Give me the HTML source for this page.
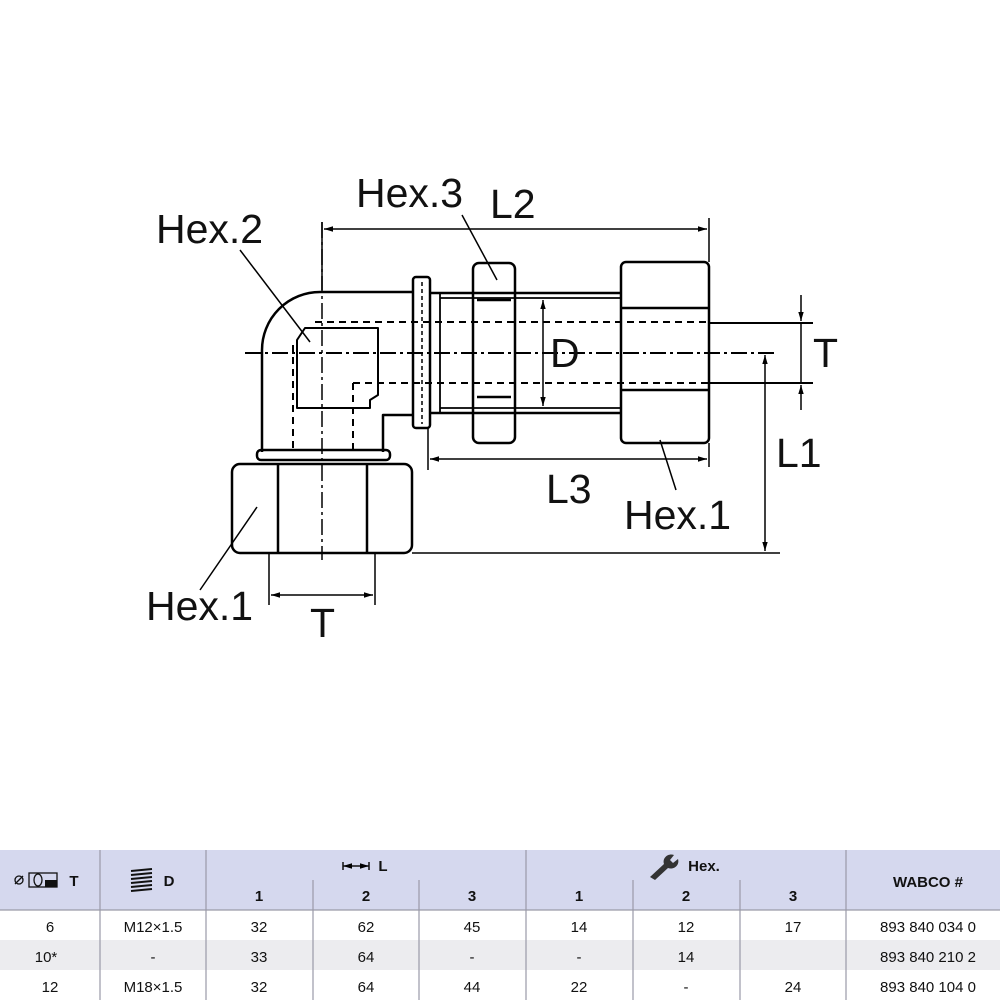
<!DOCTYPE html>
<html><head><meta charset="utf-8"><style>
html,body{margin:0;padding:0;background:#fff;width:1000px;height:1000px;overflow:hidden}
svg{display:block}
.t{font-family:"Liberation Sans",Arial,sans-serif;fill:#111}
</style></head><body>
<svg width="1000" height="1000" viewBox="0 0 1000 1000" xmlns="http://www.w3.org/2000/svg">
<defs>
<marker id="a" viewBox="0 0 10 10" refX="10" refY="5" markerWidth="8" markerHeight="6" orient="auto-start-reverse"><path d="M0,2 L10,5 L0,8 z" fill="#000"/></marker>
</defs>
<g fill="none" stroke="#000" stroke-width="2.5" stroke-linejoin="round">
<!-- elbow outer -->
<path d="M413,292 H320 A58,58 0 0 0 262,350 V452"/>
<path d="M383,452 V415 H413"/>
<!-- bore -->
<path d="M297,340 L305,328 H378 V395 L370,400 V408 H297 Z" stroke-width="2"/>
<!-- washer -->
<rect x="257" y="450" width="133" height="10" rx="4"/>
<!-- big hex nut -->
<rect x="232" y="464" width="180" height="89" rx="8"/>
<line x1="278" y1="464" x2="278" y2="553"/>
<line x1="367" y1="464" x2="367" y2="553"/>
<!-- flange -->
<rect x="413" y="277" width="17" height="151" rx="3"/>
<!-- body tube -->
<line x1="430" y1="293" x2="621" y2="293"/>
<line x1="430" y1="413" x2="621" y2="413"/>
<line x1="440" y1="298" x2="621" y2="298" stroke-width="1.8"/>
<line x1="440" y1="408" x2="621" y2="408" stroke-width="1.8"/>
<line x1="440" y1="293" x2="440" y2="413" stroke-width="1.8"/>
<!-- hex3 -->
<rect x="473" y="263" width="42" height="180" rx="6"/>
<line x1="477" y1="300" x2="511" y2="300"/>
<line x1="477" y1="397" x2="511" y2="397"/>
<!-- hex1 right -->
<rect x="621" y="262" width="88" height="181" rx="5"/>
<line x1="621" y1="308" x2="709" y2="308"/>
<line x1="621" y1="390" x2="709" y2="390"/>
<!-- tube right -->
<line x1="709" y1="323" x2="813" y2="323" stroke-width="2"/>
<line x1="709" y1="383" x2="813" y2="383" stroke-width="2"/>
</g>
<g fill="none" stroke="#000" stroke-width="2" stroke-dasharray="7,5">
<line x1="315" y1="322" x2="709" y2="322"/>
<line x1="353" y1="383" x2="709" y2="383"/>
<line x1="293" y1="345" x2="293" y2="450"/>
<line x1="353" y1="383" x2="353" y2="450"/>
<line x1="422" y1="282" x2="422" y2="424" stroke-width="1.5" stroke-dasharray="4,3"/>
</g>
<g fill="none" stroke="#000" stroke-width="1.5" stroke-dasharray="16,4,3,4">
<line x1="245" y1="353" x2="778" y2="353" stroke-width="2"/>
<line x1="322" y1="222" x2="322" y2="560"/>
</g>
<g fill="none" stroke="#000" stroke-width="1.5">
<!-- L2 -->
<line x1="322" y1="222" x2="322" y2="290"/>
<line x1="709" y1="218" x2="709" y2="262"/>
<line x1="324" y1="229" x2="707" y2="229" marker-start="url(#a)" marker-end="url(#a)"/>
<!-- L3 -->
<line x1="428" y1="428" x2="428" y2="470"/>
<line x1="709" y1="443" x2="709" y2="467"/>
<line x1="430" y1="459" x2="707" y2="459" marker-start="url(#a)" marker-end="url(#a)"/>
<!-- D -->
<line x1="543" y1="300" x2="543" y2="406" marker-start="url(#a)" marker-end="url(#a)"/>
<!-- T right -->
<line x1="801" y1="295" x2="801" y2="321" marker-end="url(#a)"/>
<line x1="801" y1="410" x2="801" y2="385" marker-end="url(#a)"/>
<line x1="801" y1="323" x2="801" y2="383"/>
<!-- L1 -->
<line x1="765" y1="355" x2="765" y2="551" marker-start="url(#a)" marker-end="url(#a)"/>
<line x1="412" y1="553" x2="780" y2="553"/>
<!-- T bottom -->
<line x1="269" y1="553" x2="269" y2="605"/>
<line x1="375" y1="553" x2="375" y2="605"/>
<line x1="271" y1="595" x2="373" y2="595" marker-start="url(#a)" marker-end="url(#a)"/>
<!-- leaders -->
<line x1="240" y1="250" x2="310" y2="342"/>
<line x1="462" y1="215" x2="497" y2="280"/>
<line x1="660" y1="440" x2="676" y2="490"/>
<line x1="200" y1="590" x2="257" y2="507"/>
</g>
<g class="t" font-size="41">
<text x="156" y="243">Hex.2</text>
<text x="356" y="207">Hex.3</text>
<text x="490" y="218">L2</text>
<text x="550" y="367">D</text>
<text x="813" y="367">T</text>
<text x="776" y="467">L1</text>
<text x="546" y="503">L3</text>
<text x="624" y="529">Hex.1</text>
<text x="146" y="620">Hex.1</text>
<text x="310" y="637">T</text>
</g>
<!-- table -->
<rect x="0" y="850" width="1000" height="60" fill="#d5d8ee"/>
<rect x="0" y="940" width="1000" height="30" fill="#ececef"/>
<g stroke="#9a9aa8" stroke-width="1.2">
<line x1="0" y1="910" x2="1000" y2="910"/>
<line x1="100" y1="850" x2="100" y2="1000"/>
<line x1="206" y1="850" x2="206" y2="1000"/>
<line x1="526" y1="850" x2="526" y2="1000"/>
<line x1="846" y1="850" x2="846" y2="1000"/>
<line x1="313" y1="880" x2="313" y2="1000"/>
<line x1="419" y1="880" x2="419" y2="1000"/>
<line x1="633" y1="880" x2="633" y2="1000"/>
<line x1="740" y1="880" x2="740" y2="1000"/>
</g>
<g class="t" font-size="15" font-weight="bold" text-anchor="middle">
<text x="74" y="886">T</text>
<text x="169" y="886">D</text>
<text x="383" y="871">L</text>
<text x="704" y="871">Hex.</text>
<text x="259" y="901">1</text><text x="366" y="901">2</text><text x="472" y="901">3</text>
<text x="579" y="901">1</text><text x="686" y="901">2</text><text x="793" y="901">3</text>
<text x="928" y="887">WABCO #</text>
</g>
<!-- icons -->
<g stroke="#111" fill="none" stroke-width="1.3">
<circle cx="19" cy="880" r="4"/><line x1="15" y1="884" x2="23" y2="876"/>
<rect x="29" y="873" width="28" height="14"/>
<ellipse cx="38" cy="880" rx="4" ry="6"/>
</g>
<rect x="45" y="880" width="12" height="7" fill="#111"/>
<g stroke="#111" stroke-width="2">
<line x1="131" y1="871" x2="152" y2="869"/><line x1="131" y1="875" x2="152" y2="873"/>
<line x1="131" y1="879" x2="152" y2="877"/><line x1="131" y1="883" x2="152" y2="881"/>
<line x1="131" y1="887" x2="152" y2="885"/><line x1="131" y1="891" x2="152" y2="889"/>
</g>
<g stroke="#111" stroke-width="1.5"><line x1="343" y1="866" x2="369" y2="866" marker-start="url(#a)" marker-end="url(#a)"/><line x1="343" y1="862" x2="343" y2="870"/><line x1="369" y1="862" x2="369" y2="870"/></g>
<path d="M650,877 L664,864 C662,858 668,853 674,855 L670,860 L673,863 L678,859 C680,866 673,870 668,868 L655,880 Z" fill="#333"/>
<g class="t" font-size="15" text-anchor="middle">
<text x="50" y="932">6</text><text x="153" y="932">M12×1.5</text><text x="259" y="932">32</text><text x="366" y="932">62</text><text x="472" y="932">45</text><text x="579" y="932">14</text><text x="686" y="932">12</text><text x="793" y="932">17</text><text x="928" y="932">893 840 034 0</text>
<text x="46" y="962">10*</text><text x="153" y="962">-</text><text x="259" y="962">33</text><text x="366" y="962">64</text><text x="472" y="962">-</text><text x="579" y="962">-</text><text x="686" y="962">14</text><text x="928" y="962">893 840 210 2</text>
<text x="50" y="992">12</text><text x="153" y="992">M18×1.5</text><text x="259" y="992">32</text><text x="366" y="992">64</text><text x="472" y="992">44</text><text x="579" y="992">22</text><text x="686" y="992">-</text><text x="793" y="992">24</text><text x="928" y="992">893 840 104 0</text>
</g>
</svg>
</body></html>
